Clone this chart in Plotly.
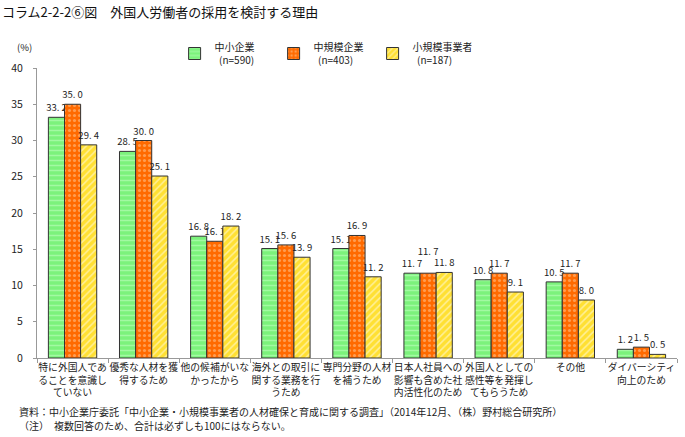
import plotly.graph_objects as go

categories = [
    "特に外国人であ<br>ることを意識し<br>ていない",
    "優秀な人材を獲<br>得するため",
    "他の候補がいな<br>かったから",
    "海外との取引に<br>関する業務を行<br>うため",
    "専門分野の人材<br>を補うため",
    "日本人社員への<br>影響も含めた社<br>内活性化のため",
    "外国人としての<br>感性等を発揮し<br>てもらうため",
    "その他",
    "ダイバーシティ<br>向上のため",
]
small_medium = [33.2, 28.5, 16.8, 15.1, 15.1, 11.7, 10.8, 10.5, 1.2]
medium = [35.0, 30.0, 16.1, 15.6, 16.9, 11.7, 11.7, 11.7, 1.5]
small = [29.4, 25.1, 18.2, 13.9, 11.2, 11.8, 9.1, 8.0, 0.5]
series_names = ["中小企業<br>\u00a0\u00a0(n=590)", "中規模企業<br>\u00a0\u00a0(n=403)", "小規模事業者<br>\u00a0\u00a0(n=187)"]
y_ticks = [0, 5, 10, 15, 20, 25, 30, 35, 40]

FONT = "Noto Sans CJK JP"

def fmt(v):
    s = f"{v:.1f}"
    return s.replace(".", ". ")

styles = [
    dict(color="#7CF27C", shape="-", fg="#C8FFC8"),
    dict(color="#FF6A00", shape=".", fg="#FFD0A0"),
    dict(color="#FFE033", shape="/", fg="#FFFFFF"),
]

all_series = [small_medium, medium, small]
fig = go.Figure()
for si, (name, vals, st) in enumerate(zip(series_names, all_series, styles)):
    texts = []
    for ci, v in enumerate(vals):
        t = fmt(v)
        # raise the middle label where the three labels would collide (as in the reference)
        if si == 1 and ci == 5:
            t = t + "<br>\u00a0"
        texts.append(t)
    fig.add_trace(go.Bar(
        x=categories, y=vals, name=name,
        text=texts, textposition="outside",
        textfont=dict(size=9.5, color="#222", family=FONT),
        constraintext="none",
        cliponaxis=False,
        marker=dict(color=st["color"], line=dict(color="#333", width=1),
                    pattern=dict(shape=st["shape"], fgcolor=st["fg"], size=5, solidity=0.3)),
    ))

fig.update_layout(
    width=685, height=437,
    margin=dict(l=37, r=8, t=68, b=79, autoexpand=False),
    paper_bgcolor="white", plot_bgcolor="white",
    barmode="group", bargap=0.32, bargroupgap=0,
    font=dict(family=FONT, size=10, color="#222"),
    showlegend=True,
    legend=dict(orientation="h", x=0.215, xanchor="left", y=1 - 34 / 437, yanchor="top",
                yref="container",
                font=dict(size=10), itemwidth=30, entrywidth=54,
                bgcolor="rgba(0,0,0,0)", tracegroupgap=0),
    xaxis=dict(showline=True, linecolor="#999", ticks="outside", tickson="boundaries",
               tickcolor="#999", ticklen=4, tickfont=dict(size=9.8), tickangle=0,
               automargin=False),
    yaxis=dict(range=[0, 40], tickvals=y_ticks, showgrid=False, showline=True,
               linecolor="#999", ticks="outside", tickcolor="#999", ticklen=3,
               ticklabelstandoff=8,
               tickfont=dict(size=10.5), zeroline=False, automargin=False),
)

fig.add_annotation(x=0, y=1, xref="paper", yref="paper", xshift=-37, yshift=68,
                   xanchor="left", yanchor="top", showarrow=False,
                   text="コラム2-2-2⑥図　外国人労働者の採用を検討する理由",
                   font=dict(size=13, color="#111", family=FONT))
fig.add_annotation(x=0, y=1, xref="paper", yref="paper", xshift=-13, yshift=21,
                   xanchor="center", yanchor="middle", showarrow=False,
                   text="(%)", font=dict(size=9.5, family=FONT))
fig.add_annotation(x=0, y=0, xref="paper", yref="paper", xshift=-20, yshift=-53,
                   xanchor="left", yanchor="middle", showarrow=False,
                   text="資料：中小企業庁委託「中小企業・小規模事業者の人材確保と育成に関する調査」（2014年12月、（株）野村総合研究所）",
                   font=dict(size=10, family=FONT))
fig.add_annotation(x=0, y=0, xref="paper", yref="paper", xshift=-20, yshift=-67,
                   xanchor="left", yanchor="middle", showarrow=False,
                   text="（注）　複数回答のため、合計は必ずしも100にはならない。",
                   font=dict(size=10, family=FONT))

fig.write_html("out.html", config={"displayModeBar": False},
               post_script="document.body.style.margin='0';")
